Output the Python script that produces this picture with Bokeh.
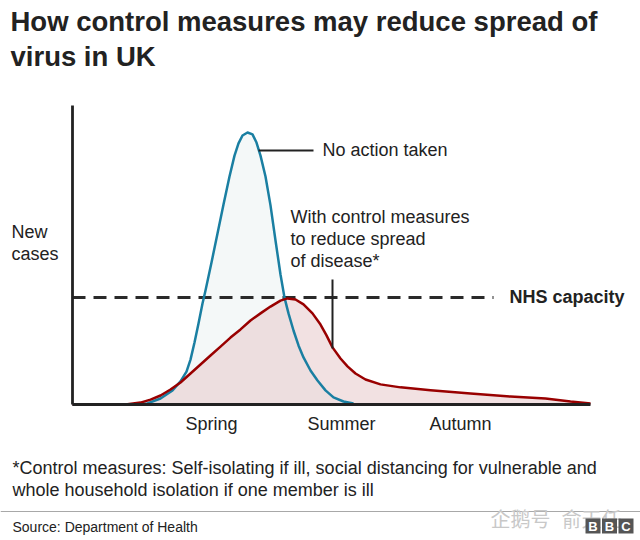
from bokeh.plotting import figure
from bokeh.models import Range1d
from bokeh.core.properties import value
from bokeh.embed import file_html
from bokeh.resources import INLINE

# ---------------- data (time in weeks, new cases as % of unchecked peak) -------------
blue_x = [0, 2.9, 3.75, 4.4, 5.0, 5.4, 5.7, 5.9, 6.1, 6.3, 6.5, 6.65, 6.95, 7.25, 7.55,
          7.85, 8.1, 8.3, 8.5, 8.75, 9.0, 9.2, 9.4, 9.65, 9.9, 10.15, 10.4, 10.6, 10.8,
          11.05, 11.3, 11.55, 11.9, 12.25, 12.65, 13.05, 13.55, 14.05]
blue_y = [0, 0, 0.4, 2.2, 5.2, 8.5, 12.1, 16.5, 22.8, 29.8, 37.1, 41.9, 52.2, 62.9, 73.5,
          83.8, 91.5, 96.0, 98.9, 100.0, 99.3, 96.3, 91.5, 83.8, 73.2, 60.3, 47.8, 39.3, 33.5,
          27.2, 21.7, 17.3, 12.5, 8.8, 5.2, 2.6, 1.1, 0.4]

red_x = [0, 2.65, 3.4, 3.9, 4.4, 4.9, 5.4, 5.9, 6.4, 6.9, 7.4, 7.9, 8.4, 8.9, 9.4, 9.9,
         10.4, 10.75, 11.15, 11.55, 12.0, 12.4, 12.7, 13.0, 13.4, 13.75, 14.15, 14.65,
         15.4, 16.4, 17.9, 19.9, 21.9, 23.65, 24.9, 25.9]
red_y = [0, 0, 0.7, 1.8, 3.3, 5.5, 8.1, 11.4, 14.7, 18.0, 21.3, 24.6, 27.6, 30.9, 33.5, 36.0,
         38.2, 39.0, 38.6, 36.8, 33.5, 29.4, 25.4, 21.0, 16.9, 14.0, 11.4, 9.2,
         7.4, 6.3, 5.2, 4.0, 2.9, 2.2, 1.1, 0.4]

nhs_capacity = 39.3

season_labels = ["Spring", "Summer", "Autumn"]
season_pos = [6.95, 13.45, 19.4]

# ---------------- layout helpers (pixel -> data) -------------
PX0, PXW, PY0, PYU = 72.0, 20.0, 404.0, 2.72


def X(px):
    return (px - PX0) / PXW


def Y(py):
    return (PY0 - py) / PYU


p = figure(width=640, height=540,
           x_range=Range1d(X(0), X(640)), y_range=Range1d(Y(540), Y(0)),
           output_backend="svg", toolbar_location=None,
           x_axis_location=None, y_axis_location=None,
           min_border=0, outline_line_color=None,
           background_fill_color="white", border_fill_color="white")
p.xgrid.visible = False
p.ygrid.visible = False

FONT = value("Liberation Sans")
INK = "#222222"
BLUE = "#1a7fa2"
RED = "#990000"

# fills
p.varea(x=blue_x, y1=[0] * len(blue_x), y2=blue_y, fill_color="#f4f8f8")
p.varea(x=red_x, y1=[0] * len(red_x), y2=red_y, fill_color="#e6c3c6", fill_alpha=0.5)

# NHS capacity dashed line
p.line(x=[0, X(493)], y=[nhs_capacity, nhs_capacity], line_color="#2a2a2a",
       line_width=3, line_dash="13 8")

# curves
p.line(x=blue_x, y=blue_y, line_color=BLUE, line_width=2.5, line_join="round")
p.line(x=red_x, y=red_y, line_color=RED, line_width=2.5, line_join="round")

# axes
p.segment(x0=[0, 0], y0=[0, 0], x1=[0, X(590)], y1=[Y(105), 0],
          line_color=INK, line_width=2.8, line_cap="butt")

# pointer lines
p.segment(x0=[X(258), X(332)], y0=[Y(150), Y(279)], x1=[X(313), X(332)], y1=[Y(150), Y(348)],
          line_color=INK, line_width=2)


def txt(px, py, s, size="18px", style="normal", color=INK, align="left", font=FONT):
    p.text(x=[X(px)], y=[Y(py)], text=[s], text_font=font, text_font_size=size,
           text_font_style=style, text_color=color, text_align=align,
           text_baseline="alphabetic")


# title
txt(10, 21, "How control measures may reduce spread of", size="27.5px", style="bold")
txt(10, 56, "virus in UK", size="27.5px", style="bold")

# axis labels
txt(11, 231, "New")
txt(11, 253, "cases")
p.text(x=season_pos, y=[Y(423)] * 3, text=season_labels, text_font=FONT,
       text_font_size="18px", text_color=INK, text_align="center",
       text_baseline="alphabetic")

# annotations
txt(322, 149, "No action taken")
txt(290, 216, "With control measures")
txt(290, 238, "to reduce spread")
txt(290, 260, "of disease*")
txt(509, 296, "NHS capacity", style="bold")

# footnote
txt(12, 467, "*Control measures: Self-isolating if ill, social distancing for vulnerable and")
txt(12, 489, "whole household isolation if one member is ill")

# rule + source
p.segment(x0=[X(0)], y0=[Y(511)], x1=[X(640)], y1=[Y(511)], line_color="#a8a8a8", line_width=1)
txt(12, 526, "Source: Department of Health", size="14px")

# watermark
txt(490, 518, "企鹅号", size="20px", color="#c8c8c8", font=value("Noto Sans CJK SC"))
txt(561, 518, "俞天任", size="20px", color="#c8c8c8", font=value("Noto Sans CJK SC"))

# BBC logo
lefts = [585, 601.5, 618]
p.quad(left=[X(l) for l in lefts], right=[X(l + 15) for l in lefts],
       top=[Y(518)] * 3, bottom=[Y(533)] * 3, fill_color="#555555", line_color=None)
p.text(x=[X(l + 7.5) for l in lefts], y=[Y(526)] * 3, text=["B", "B", "C"],
       text_font=FONT, text_font_size="13px", text_font_style="bold",
       text_color="white", text_align="center", text_baseline="alphabetic")

open("out.html", "w").write(file_html(p, INLINE))
